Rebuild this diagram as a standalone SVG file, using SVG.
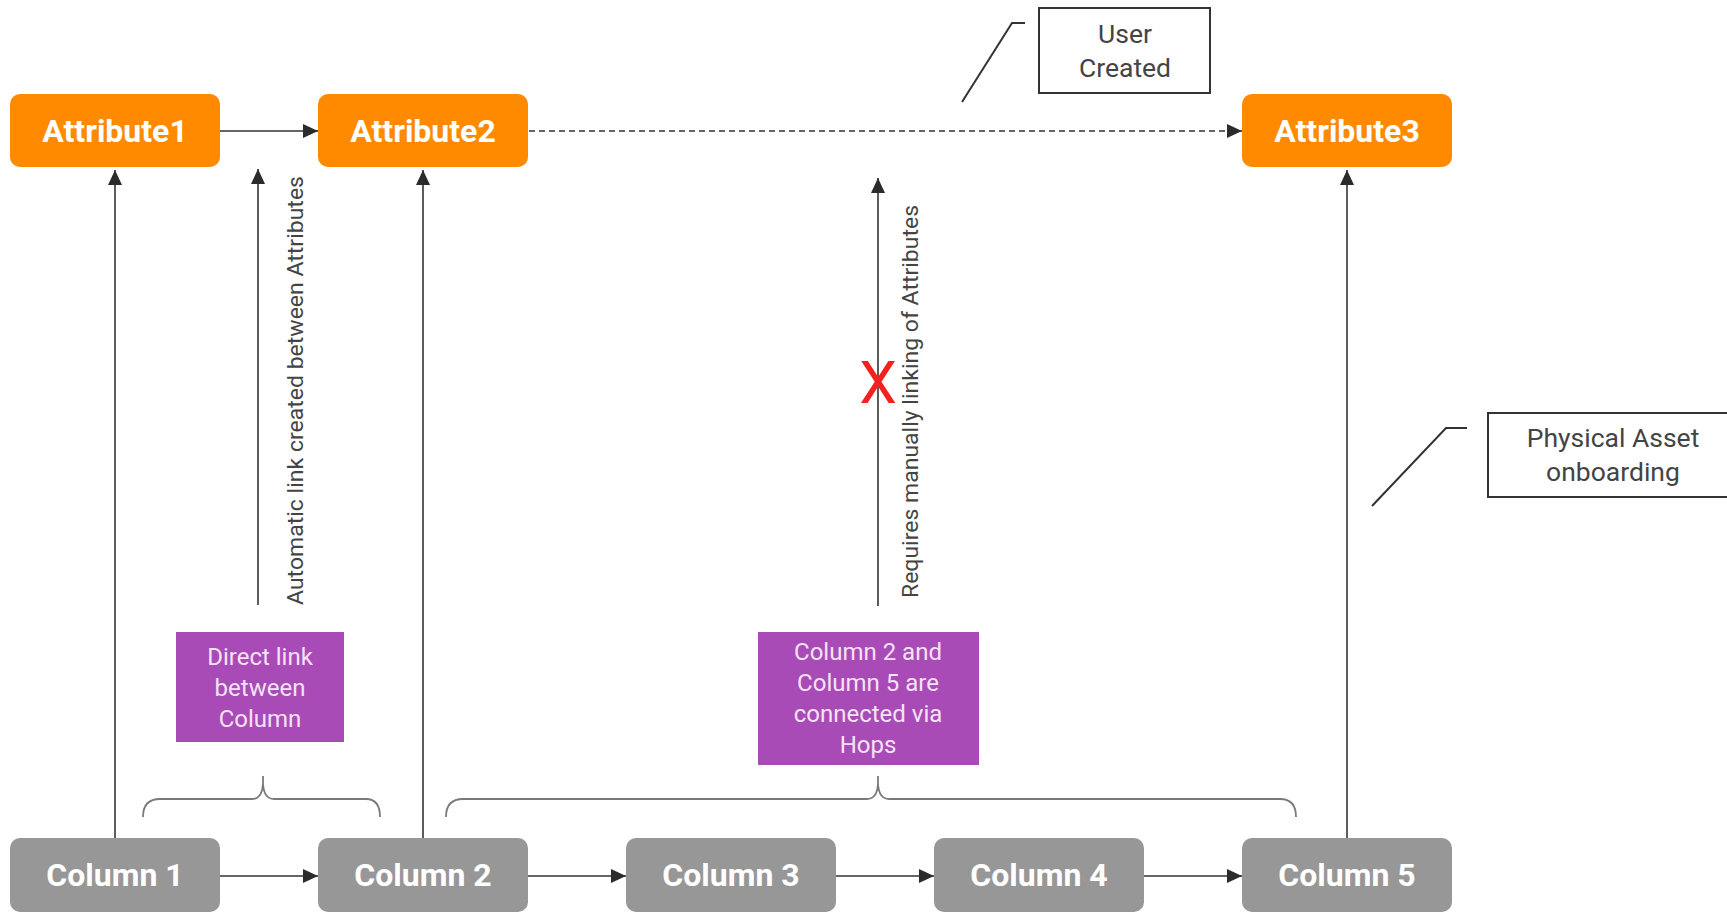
<svg xmlns="http://www.w3.org/2000/svg" width="1727" height="913" viewBox="0 0 1727 913">
<defs>
<marker id="arr" markerUnits="userSpaceOnUse" markerWidth="16" markerHeight="16" refX="15" refY="7" orient="auto">
<path d="M0,0 L15,7 L0,14 z" fill="#2b2b2b"/>
</marker>
<style>
.attr rect{fill:#FF8A00}
.col rect{fill:#979797}
.nt{font-family:Roboto,"Liberation Sans",sans-serif;font-weight:bold;font-size:32px;fill:#fff;text-anchor:middle}
.pur rect{fill:#A94BB6}
.pt{font-family:Roboto,"Liberation Sans",sans-serif;font-size:24px;fill:#F6E2F6;text-anchor:middle}
.note rect{fill:#fff;stroke:#333;stroke-width:2}
.ntx{font-family:Roboto,"Liberation Sans",sans-serif;font-size:26.5px;fill:#444;text-anchor:middle}
.lead{fill:none;stroke:#333;stroke-width:2}
.ln{fill:none;stroke:#333;stroke-width:1.6;marker-end:url(#arr)}
.dash{stroke-dasharray:6 4}
.brace{fill:none;stroke:#7a7a7a;stroke-width:1.8}
.vt{font-family:Roboto,"Liberation Sans",sans-serif;font-size:22px;fill:#444}
</style>
</defs>
<rect width="1727" height="913" fill="#fff"/>

<g id="connectors">
<line class="ln" x1="220" y1="131" x2="318" y2="131"/>
<line class="ln dash" x1="529" y1="131" x2="1242" y2="131"/>
<line class="ln" x1="220" y1="876" x2="318" y2="876"/>
<line class="ln" x1="528" y1="876" x2="626" y2="876"/>
<line class="ln" x1="836" y1="876" x2="934" y2="876"/>
<line class="ln" x1="1144" y1="876" x2="1242" y2="876"/>
<line class="ln" x1="115" y1="838" x2="115" y2="170"/>
<line class="ln" x1="423" y1="838" x2="423" y2="170"/>
<line class="ln" x1="1347" y1="838" x2="1347" y2="170"/>
<line class="ln" x1="258" y1="605" x2="258" y2="169"/>
<line class="ln" x1="878" y1="606" x2="878" y2="178"/>
</g>

<g id="attribute1" class="attr"><rect x="10" y="94" width="210" height="73" rx="10"/><text class="nt" x="115" y="142">Attribute1</text></g>
<g id="attribute2" class="attr"><rect x="318" y="94" width="210" height="73" rx="10"/><text class="nt" x="423" y="142">Attribute2</text></g>
<g id="attribute3" class="attr"><rect x="1242" y="94" width="210" height="73" rx="10"/><text class="nt" x="1347" y="142">Attribute3</text></g>

<g id="column1" class="col"><rect x="10" y="838" width="210" height="74" rx="10"/><text class="nt" x="115" y="886">Column 1</text></g>
<g id="column2" class="col"><rect x="318" y="838" width="210" height="74" rx="10"/><text class="nt" x="423" y="886">Column 2</text></g>
<g id="column3" class="col"><rect x="626" y="838" width="210" height="74" rx="10"/><text class="nt" x="731" y="886">Column 3</text></g>
<g id="column4" class="col"><rect x="934" y="838" width="210" height="74" rx="10"/><text class="nt" x="1039" y="886">Column 4</text></g>
<g id="column5" class="col"><rect x="1242" y="838" width="210" height="74" rx="10"/><text class="nt" x="1347" y="886">Column 5</text></g>

<g id="label-automatic"><text class="vt" transform="translate(303,605) rotate(-90)" textLength="429" lengthAdjust="spacingAndGlyphs">Automatic link created between Attributes</text></g>
<g id="label-requires"><text class="vt" transform="translate(918,598) rotate(-90)" textLength="393" lengthAdjust="spacingAndGlyphs">Requires manually linking of Attributes</text></g>

<g id="red-x"><text transform="translate(878,403)" x="0" y="0" font-family="Roboto,'Liberation Sans',sans-serif" font-size="60" fill="#F2201E" text-anchor="middle">X</text></g>

<g id="note-direct" class="pur"><rect x="176" y="632" width="168" height="110"/>
<text class="pt" x="260" y="665">Direct link</text>
<text class="pt" x="260" y="696">between</text>
<text class="pt" x="260" y="727">Column</text></g>

<g id="note-hops" class="pur"><rect x="758" y="632" width="221" height="133"/>
<text class="pt" x="868" y="660">Column 2 and</text>
<text class="pt" x="868" y="691">Column 5 are</text>
<text class="pt" x="868" y="722">connected via</text>
<text class="pt" x="868" y="753">Hops</text></g>

<g id="brace1"><path class="brace" d="M143,817 Q143,799 160,799 L252,799 Q262,799 263,784 L263,776 M263,784 Q264,799 274,799 L366,799 Q380,799 380,817"/></g>
<g id="brace2"><path class="brace" d="M446,817 Q446,799 463,799 L867,799 Q877,799 878,784 L878,776 M878,784 Q879,799 889,799 L1280,799 Q1296,799 1296,817"/></g>

<g id="note-user-created" class="note">
<polyline class="lead" points="962,102 1012,23 1025,23"/>
<rect x="1039" y="8" width="171" height="85"/>
<text class="ntx" x="1125" y="43">User</text>
<text class="ntx" x="1125" y="77">Created</text></g>

<g id="note-physical" class="note">
<polyline class="lead" points="1372,506 1446,428 1467,428"/>
<rect x="1488" y="413" width="250" height="84"/>
<text class="ntx" x="1613" y="447">Physical Asset</text>
<text class="ntx" x="1613" y="481">onboarding</text></g>
</svg>
